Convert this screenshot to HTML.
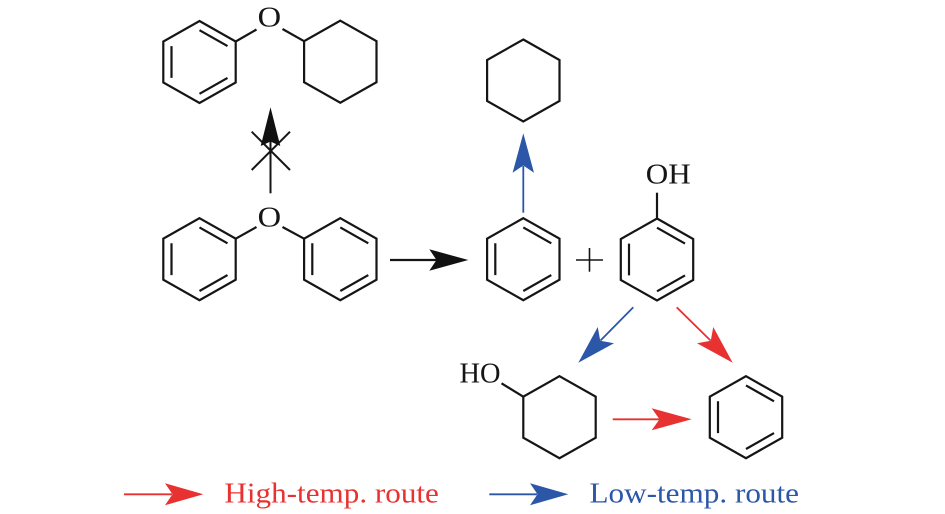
<!DOCTYPE html>
<html>
<head>
<meta charset="utf-8">
<style>
  html,body{margin:0;padding:0;background:#fff;}
  svg{display:block;}
  text{font-family:"Liberation Serif","DejaVu Serif",serif;font-size:29px;}
</style>
</head>
<body>
<svg width="945" height="514" viewBox="0 0 945 514" xmlns="http://www.w3.org/2000/svg">
  <defs>
    <g id="benz" fill="none" stroke="#151515" stroke-width="2.2" stroke-linejoin="miter">
      <polygon points="0,-41 36.2,-20.5 36.2,20.5 0,41 -36.2,20.5 -36.2,-20.5"/>
      <path d="M0,-31.8 L28,-15.9 M-28,-15.9 L-28,15.9 M0,31.8 L28,15.9"/>
    </g>
    <g id="chex" fill="none" stroke="#151515" stroke-width="2.2" stroke-linejoin="miter">
      <polygon points="0,-41 36.2,-20.5 36.2,20.5 0,41 -36.2,20.5 -36.2,-20.5"/>
    </g>
  </defs>

  <!-- top-left: phenyl cyclohexyl ether -->
  <use href="#benz" x="199.5" y="62"/>
  <use href="#chex" x="340.3" y="61.7"/>
  <g stroke="#151515" stroke-width="2.2" fill="none">
    <line x1="235.7" y1="41.5" x2="256.5" y2="29.5"/>
    <line x1="282.5" y1="29" x2="304.1" y2="41.2"/>
  </g>
  <text x="257.6" y="26.3" fill="#151515" textLength="23.5" lengthAdjust="spacingAndGlyphs">O</text>

  <!-- crossed arrow -->
  <g stroke="#151515" stroke-width="2" fill="none">
    <line x1="270.5" y1="193.3" x2="270.5" y2="140"/>
    <line x1="251.7" y1="131.7" x2="290" y2="170"/>
    <line x1="290" y1="131.7" x2="251.7" y2="170"/>
  </g>
  <path d="M270.5,107.3 L280.3,146 L270.5,141.5 L260.7,146 Z" fill="#111"/>

  <!-- diphenyl ether -->
  <use href="#benz" x="199.5" y="259.2"/>
  <use href="#benz" x="340.3" y="259.2"/>
  <g stroke="#151515" stroke-width="2.2" fill="none">
    <line x1="235.7" y1="238.7" x2="256.5" y2="227"/>
    <line x1="282.5" y1="227" x2="304.1" y2="238.7"/>
  </g>
  <text x="257.6" y="226.5" fill="#151515" textLength="23.5" lengthAdjust="spacingAndGlyphs">O</text>

  <!-- black reaction arrow -->
  <line x1="390" y1="260" x2="438" y2="260" stroke="#151515" stroke-width="2.2"/>
  <path d="M468.3,260 L429.3,249.3 L436.5,260 L429.3,270.7 Z" fill="#111"/>

  <!-- benzene + phenol -->
  <use href="#benz" x="523.3" y="259.2"/>
  <g stroke="#151515" stroke-width="1.6">
    <line x1="576" y1="260" x2="603" y2="260"/>
    <line x1="589.5" y1="248" x2="589.5" y2="271.7"/>
  </g>
  <use href="#benz" x="657" y="259.5"/>
  <line x1="657" y1="218.5" x2="657" y2="192.7" stroke="#151515" stroke-width="2.2"/>
  <text x="645.8" y="183.3" fill="#151515" textLength="45" lengthAdjust="spacingAndGlyphs">OH</text>

  <!-- cyclohexane top with blue arrow -->
  <use href="#chex" x="523.3" y="80.5"/>
  <line x1="523.3" y1="212.7" x2="523.3" y2="166" stroke="#2c57a8" stroke-width="1.8"/>
  <path d="M523.3,133.3 L534,172.7 L523.3,165.5 L512.6,172.7 Z" fill="#2c57a8"/>

  <!-- blue diagonal arrow -->
  <line x1="633.3" y1="307.3" x2="600.5" y2="340.5" stroke="#2c57a8" stroke-width="1.8"/>
  <path d="M0,0 L-39,-11.5 L-31,0 L-39,11.5 Z" fill="#2c57a8" transform="translate(578.3,362.7) rotate(135)"/>

  <!-- red diagonal arrow -->
  <line x1="676.7" y1="307.3" x2="710.5" y2="340.5" stroke="#e83232" stroke-width="1.8"/>
  <path d="M0,0 L-39,-11.5 L-31,0 L-39,11.5 Z" fill="#e83232" transform="translate(732.7,362.7) rotate(45)"/>

  <!-- cyclohexanol -->
  <use href="#chex" x="559.5" y="417.2"/>
  <line x1="501.5" y1="383.3" x2="523.3" y2="396.7" stroke="#151515" stroke-width="2.2"/>
  <text x="459.5" y="382.3" fill="#151515" textLength="41" lengthAdjust="spacingAndGlyphs">HO</text>

  <!-- red horizontal arrow -->
  <line x1="612.7" y1="419.3" x2="661" y2="419.3" stroke="#e83232" stroke-width="1.8"/>
  <path d="M691.7,419.3 L651.7,408.3 L659.5,419.3 L651.7,430.3 Z" fill="#e83232"/>

  <!-- final benzene -->
  <use href="#benz" x="746" y="417.2"/>

  <!-- legend -->
  <line x1="124" y1="494.3" x2="172" y2="494.3" stroke="#e83232" stroke-width="1.8"/>
  <path d="M203.3,494.3 L165,483.3 L172.5,494.3 L165,505.3 Z" fill="#e83232"/>
  <text x="224.4" y="502.5" fill="#e83232" textLength="214.5" lengthAdjust="spacingAndGlyphs">High-temp. route</text>

  <line x1="489.3" y1="494.3" x2="537" y2="494.3" stroke="#2c57a8" stroke-width="1.8"/>
  <path d="M568.3,494.3 L530,483.3 L537.5,494.3 L530,505.3 Z" fill="#2c57a8"/>
  <text x="589.5" y="502.5" fill="#2c57a8" textLength="209.5" lengthAdjust="spacingAndGlyphs">Low-temp. route</text>
</svg>
</body>
</html>
